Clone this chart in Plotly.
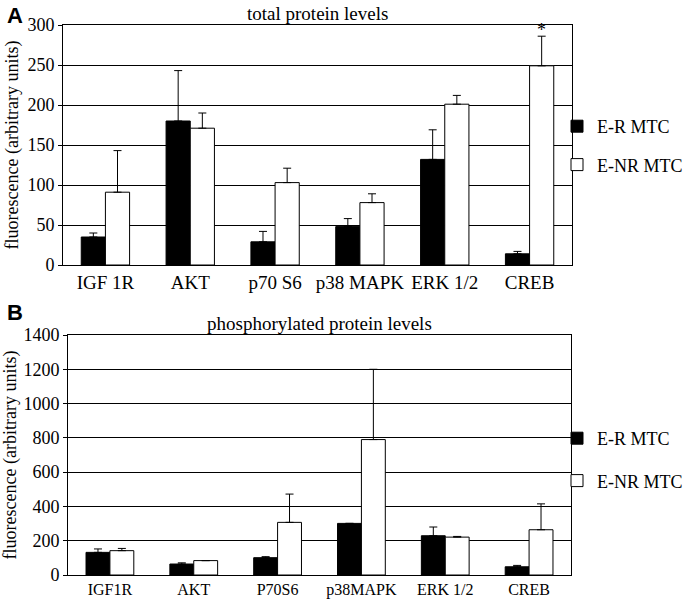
import plotly.graph_objects as go

# panel A: total protein levels
cats_a = ["IGF 1R", "AKT", "p70 S6", "p38 MAPK", "ERK 1/2", "CREB"]
er_a = [35, 180, 29, 48, 132, 14]
er_a_err = [5, 63, 13, 10, 37, 3]
enr_a = [91, 171, 103, 78, 201, 249]
enr_a_err = [52, 19, 18, 11, 11, 37]

# panel B: phosphorylated protein levels
cats_b = ["IGF1R", "AKT", "P70S6", "p38MAPK", "ERK 1/2", "CREB"]
er_b = [132, 64, 101, 301, 229, 48]
er_b_err = [20, 7, 6, 0, 51, 8]
enr_b = [142, 84, 307, 790, 221, 264]
enr_b_err = [13, 0, 165, 410, 4, 151]

W, H = 694, 607
serif = "Liberation Serif"
sans = "Liberation Sans"


def px(x):
    return x / W


def py(y):
    return 1 - y / H


def err(vals):
    return dict(type="data", symmetric=False, array=vals, arrayminus=[0] * len(vals),
                color="black", thickness=1, width=4)


fig = go.Figure()

fig.add_trace(go.Bar(x=cats_a, y=er_a, name="E-R MTC", marker=dict(color="black", line=dict(color="black", width=1)),
                     error_y=err(er_a_err), xaxis="x", yaxis="y", legend="legend", legendgroup="a1"))
fig.add_trace(go.Bar(x=cats_a, y=enr_a, name="E-NR MTC", marker=dict(color="white", line=dict(color="black", width=1)),
                     error_y=err(enr_a_err), xaxis="x", yaxis="y", legend="legend", legendgroup="a2"))
fig.add_trace(go.Bar(x=cats_b, y=er_b, name="E-R MTC", marker=dict(color="black", line=dict(color="black", width=1)),
                     error_y=err(er_b_err), xaxis="x2", yaxis="y2", legend="legend2", legendgroup="b1"))
fig.add_trace(go.Bar(x=cats_b, y=enr_b, name="E-NR MTC", marker=dict(color="white", line=dict(color="black", width=1)),
                     error_y=err(enr_b_err), xaxis="x2", yaxis="y2", legend="legend2", legendgroup="b2"))

xax = dict(showline=True, linecolor="black", linewidth=1, mirror=True, showgrid=False, automargin=False,
           ticks="")
yax = dict(showline=True, linecolor="black", linewidth=1, mirror=True, showgrid=True, automargin=False,
           gridcolor="black", gridwidth=1, ticks="outside", ticklen=4, tickcolor="black",
           tickfont=dict(family=serif, size=18, color="black"), zeroline=False)


def ytitle():
    return dict(text="fluorescence (arbitrary units)", font=dict(family=serif, size=18, color="black"), standoff=4)


fig.update_layout(
    width=W, height=H,
    margin=dict(l=0, r=0, t=0, b=0),
    font=dict(family=serif, color="black"),
    paper_bgcolor="white", plot_bgcolor="white",
    barmode="group", bargap=0.43, bargroupgap=0,
    xaxis=dict(xax, domain=[px(63), px(572)], anchor="y", tickfont=dict(family=serif, size=19, color="black")),
    yaxis=dict(yax, domain=[py(265), py(25)], range=[0, 300], dtick=50, anchor="x", title=ytitle()),
    xaxis2=dict(xax, domain=[px(68), px(571)], anchor="y2", tickfont=dict(family=serif, size=16, color="black")),
    yaxis2=dict(yax, domain=[py(575), py(335)], range=[0, 1400], dtick=200, anchor="x2", title=ytitle()),
    legend=dict(x=px(557), y=py(108), xanchor="left", yanchor="top", font=dict(family=serif, size=18, color="black"),
                tracegroupgap=12, itemwidth=30, bgcolor="rgba(0,0,0,0)"),
    legend2=dict(x=px(557), y=py(420), xanchor="left", yanchor="top", font=dict(family=serif, size=18, color="black"),
                 tracegroupgap=16, itemwidth=30, bgcolor="rgba(0,0,0,0)"),
    annotations=[
        dict(text="total protein levels", xref="x domain", yref="paper", x=0.5, y=py(1), xanchor="center",
             yanchor="top", showarrow=False, font=dict(family=serif, size=19, color="black")),
        dict(text="phosphorylated protein levels", xref="x2 domain", yref="paper", x=0.5, y=py(311),
             xanchor="center", yanchor="top", showarrow=False, font=dict(family=serif, size=19, color="black")),
        dict(text="<b>A</b>", xref="paper", yref="paper", x=px(5), y=py(1), xanchor="left", yanchor="top",
             showarrow=False, font=dict(family=sans, size=22, color="black")),
        dict(text="<b>B</b>", xref="paper", yref="paper", x=px(5), y=py(298), xanchor="left", yanchor="top",
             showarrow=False, font=dict(family=sans, size=22, color="black")),
        dict(text="*", xref="x", yref="y", x=cats_a[5], y=enr_a[5] + enr_a_err[5], xshift=12, yshift=-6,
             xanchor="center", yanchor="bottom", showarrow=False,
             font=dict(family=serif, size=18, color="black")),
    ],
)

fig.write_html("out.html", config={"displayModeBar": False},
               post_script="document.body.style.margin='0';")
